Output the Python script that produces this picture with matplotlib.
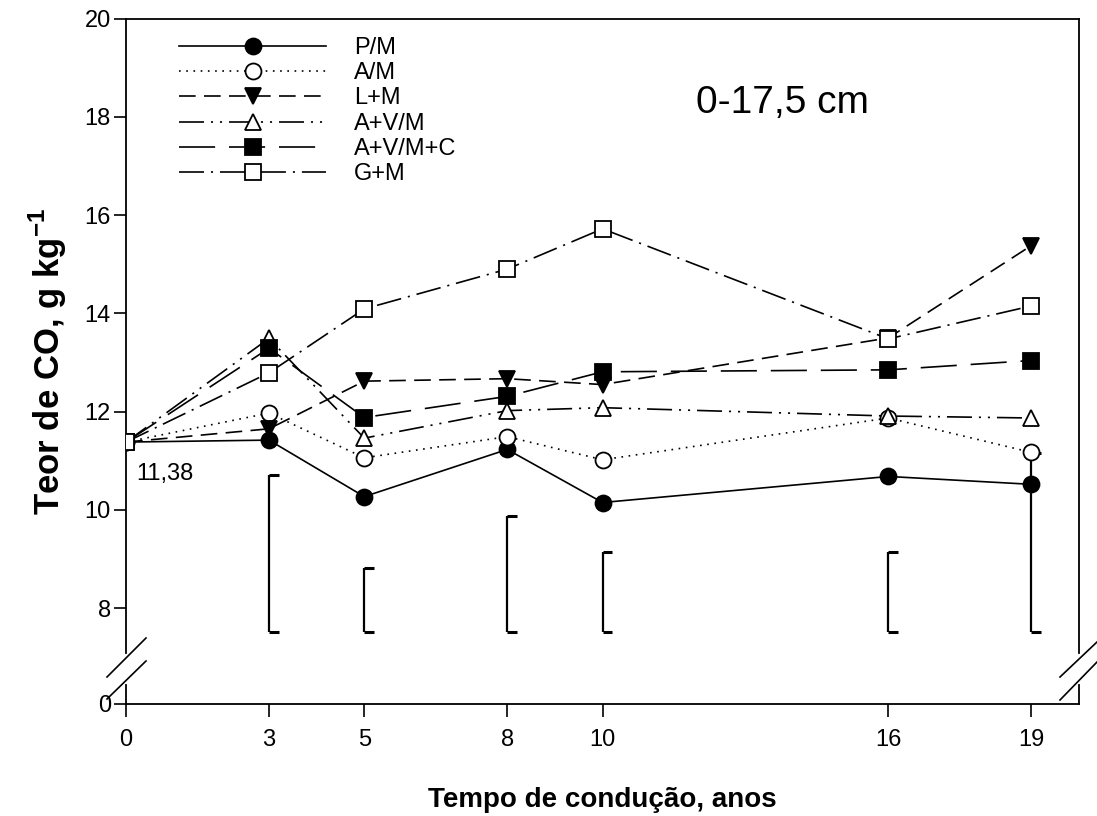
import matplotlib
matplotlib.use("Agg")
import matplotlib.pyplot as plt
from matplotlib.lines import Line2D

plt.rcParams['font.family'] = ['Liberation Sans', 'DejaVu Sans']
plt.rcParams['mathtext.fontset'] = 'custom'
plt.rcParams['mathtext.rm'] = 'Liberation Sans'
plt.rcParams['mathtext.bf'] = 'Liberation Sans:bold'
plt.rcParams['lines.scale_dashes'] = False

# ---- data ----
years = [0, 3, 5, 8, 10, 16, 19]
year_labels = ["0", "3", "5", "8", "10", "16", "19"]

pm = [11.38, 11.42, 10.27, 11.23, 10.15, 10.68, 10.52]
am = [11.38, 11.97, 11.06, 11.49, 11.02, 11.87, 11.17]
lm = [11.38, 11.65, 12.62, 12.67, 12.55, 13.50, 15.38]
avm = [11.38, 13.49, 11.46, 12.02, 12.08, 11.91, 11.87]
avmc = [11.38, 13.29, 11.88, 12.31, 12.81, 12.85, 13.04]
gm = [11.38, 12.79, 14.09, 14.90, 15.72, 13.48, 14.15]

series_names = ["P/M", "A/M", "L+M", "A+V/M", "A+V/M+C", "G+M"]

# LSD bars (bracket) : base and top value at each year (except 0)
lsd_years = [3, 5, 8, 10, 16, 19]
lsd_base = [7.52, 7.52, 7.52, 7.52, 7.52, 7.52]
lsd_top = [10.71, 8.81, 9.88, 9.14, 9.14, 11.15]

y_ticks = [8, 10, 12, 14, 16, 18, 20]
y_zero_pos = 6.05

# ---- figure ----
fig = plt.figure(figsize=(10.97, 8.16), dpi=100)
ax = fig.add_axes([0.1149, 0.1373, 0.8687, 0.8400])

styles = [
    dict(linestyle='-', marker='o', mfc='black'),
    dict(linestyle=(0, (1.2, 4.0)), marker='o', mfc='white'),
    dict(linestyle=(0, (12, 6)), marker='v', mfc='black'),
    dict(linestyle=(0, (18, 5, 1.5, 5, 1.5, 5)), marker='^', mfc='white'),
    dict(linestyle=(0, (26, 10)), marker='s', mfc='black'),
    dict(linestyle=(0, (18, 5, 1.5, 5)), marker='s', mfc='white'),
]
msizes = [11.5, 11.5, 11.5, 11.5, 11, 11]
all_series = [pm, am, lm, avm, avmc, gm]
handles = []
for i, (vals, name, st) in enumerate(zip(all_series, series_names, styles)):
    h, = ax.plot(years, vals, color='black', lw=1.2, mec='black', mew=1.3,
                 ms=msizes[i], label=name, zorder=3 + i, **st)
    handles.append(h)

# brackets
for xv, b, t in zip(lsd_years, lsd_base, lsd_top):
    ax.plot([xv, xv], [b, t], color='black', lw=1.6, zorder=2, solid_capstyle='butt')
    ax.plot([xv, xv + 0.2], [t, t], color='black', lw=2.2, zorder=2, solid_capstyle='butt')
    ax.plot([xv, xv + 0.2], [b, b], color='black', lw=2.2, zorder=2, solid_capstyle='butt')

ax.set_xlim(0, 20)
ax.set_ylim(y_zero_pos, 20)
ax.set_xticks(years)
ax.set_xticklabels(year_labels)
ax.set_yticks([y_zero_pos] + y_ticks)
ax.set_yticklabels(["0"] + [str(v) for v in y_ticks])
ax.tick_params(axis='both', direction='out', length=9, width=1.2, labelsize=17,
               top=False, right=False)
ax.tick_params(axis='x', pad=9)
ax.tick_params(axis='y', pad=2)
for s in ax.spines.values():
    s.set_linewidth(1.3)

ax.set_xlabel("Tempo de condução, anos", fontsize=20, fontweight='bold', labelpad=26)
ax.set_ylabel(r"Teor de CO, g kg$^{\mathbf{-1}}$", fontsize=25, fontweight='bold', labelpad=11)

ax.text(0.689, 0.877, "0-17,5 cm", transform=ax.transAxes, fontsize=28,
        ha='center', va='center')
ax.text(0.82, 10.74, "11,38", fontsize=17, ha='center', va='center')

# axis break marks
fig_w, fig_h = 1097.0, 816.0
def px(x, y):
    return (x / fig_w, 1 - y / fig_h)
# hide spine segments
for xs in (126.0, 1079.3):
    a = px(xs, 656); b = px(xs, 682)
    fig.add_artist(Line2D([a[0], b[0]], [a[1], b[1]], color='white', lw=3, zorder=10))
for (x0, y0, x1, y1) in [(107, 677, 146, 638), (107, 699, 146, 661),
                         (1060, 677, 1097, 642), (1060, 700, 1097, 662)]:
    a = px(x0, y0); b = px(x1, y1)
    fig.add_artist(Line2D([a[0], b[0]], [a[1], b[1]], color='black', lw=1.2, zorder=11))

leg = ax.legend(handles=handles, loc='upper left', frameon=False, fontsize=17,
                handlelength=6.2, handletextpad=1.2, labelspacing=0.14,
                borderaxespad=0.0, bbox_to_anchor=(0.046, 0.987))

fig.savefig("out.png", dpi=100)
